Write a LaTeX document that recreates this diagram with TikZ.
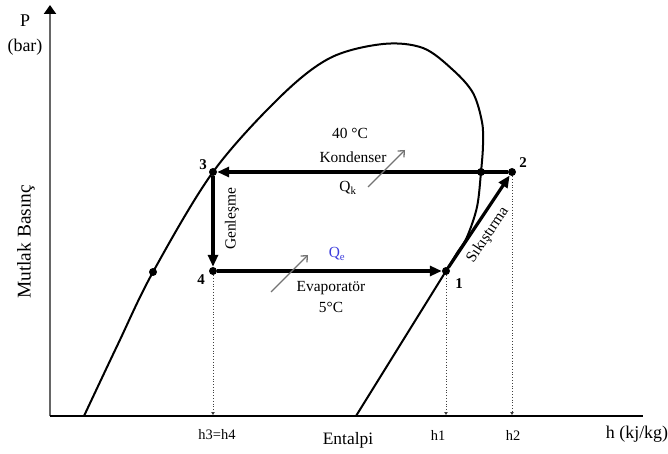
\documentclass[tikz,border=0pt]{standalone}
\usepackage{fontspec}
\setmainfont{Liberation Serif}
\usetikzlibrary{arrows.meta}
\definecolor{qblue}{RGB}{60,60,220}
\begin{document}
\begin{tikzpicture}[x=1bp,y=-1bp,
  pt/.style={circle,fill=black,inner sep=0pt,minimum size=8bp},
  cyc/.style={line width=3.2bp,-{Triangle[length=12bp,width=10bp]}},
  proj/.style={dotted,line width=0.8bp,draw=black!75,-{Triangle[length=3bp,width=3.5bp]}},
  heat/.style={draw=black!55,line width=1.3bp,-{Straight Barb[length=5bp,width=9bp]}},
  lbl/.style={font=\fontsize{15.5}{18}\selectfont,inner sep=0pt},
  num/.style={font=\bfseries\fontsize{15}{18}\selectfont,inner sep=0pt},
  axl/.style={font=\fontsize{18}{21}\selectfont,inner sep=0pt},
  hl/.style={font=\fontsize{14.5}{17}\selectfont,inner sep=0pt}]
\useasboundingbox (0,0) rectangle (668,454);

% axes
\coordinate (O) at (50,416);
\coordinate (ytop) at (50,5);
\coordinate (xend) at (643,416);
\draw[draw=black!60,line width=2bp,-{Triangle[length=9bp,width=12bp,color=black]}] (O) -- (ytop);
\draw[line width=2bp] (O) -- (xend);

% saturation dome
\draw[line width=2bp] plot[smooth,tension=0.55] coordinates {(84,416) (118,344) (153,272) (213,172) (280,97) (330,58) (383,44) (423,48) (453,70) (473,93) (482,122) (483,145) (481,172) (477,207) (467,237) (457,253) (446,271) (401,343.5) (356,416)};

% cycle points
\node[pt] (n1) at (446,271) {};
\node[pt] (n2) at (512,172) {};
\node[pt] (n3) at (213,172) {};
\node[pt] (n4) at (213,271) {};
\node[pt] (dl) at (153,272) {};
\node[pt] (dr) at (481,172) {};

\node[num] at (203,165) {3};
\node[num] at (523,163) {2};
\node[num] at (201,280) {4};
\node[num] at (459,284) {1};

% cycle arrows
\draw[cyc] (n2) -- (n3);
\draw[cyc] (n3) -- (n4);
\draw[cyc] (n4) -- (n1);
\draw[cyc] (n1) -- (n2);

% projections
\coordinate (a4) at (213,415);
\coordinate (a1) at (446,415);
\coordinate (a2) at (512,415);
\draw[proj] (n4) -- (a4);
\draw[proj] (n1) -- (a1);
\draw[proj] (n2) -- (a2);

% heat arrows
\coordinate (qk0) at (368,187);
\coordinate (qk1) at (405,150);
\coordinate (qe0) at (271,292);
\coordinate (qe1) at (308,255);
\draw[heat] (qk0) -- (qk1);
\draw[heat] (qe0) -- (qe1);

% labels
\node[lbl] at (350,133) {40 °C};
\node[lbl] at (353,157) {Kondenser};
\node[lbl] at (348,188) {Q\textsubscript{k}};
\node[lbl,text=qblue] at (337,254) {Q\textsubscript{e}};
\node[lbl] at (331,288) {Evaporatör};
\node[lbl] at (331,307) {5°C};
\node[lbl,rotate=90] at (232,219) {Genleşme};
\node[lbl,rotate=56.3] at (488,235) {Sıkıştırma};

\node[axl] at (25,21) {P};
\node[axl] at (25,47) {(bar)};
\node[axl,font=\fontsize{19.5}{22}\selectfont,rotate=90] at (26,242) {Mutlak Basınç};
\node[axl,font=\fontsize{17.5}{20}\selectfont] at (348,440) {Entalpi};
\node[axl] at (637,434) {h (kj/kg)};
\node[hl] at (217,435) {h3=h4};
\node[hl] at (438,435) {h1};
\node[hl] at (513,435) {h2};
\end{tikzpicture}
\end{document}
